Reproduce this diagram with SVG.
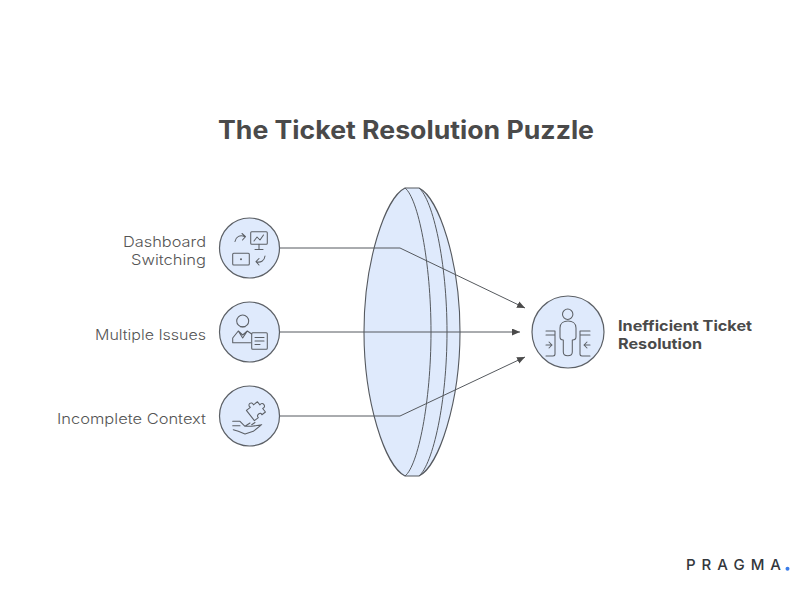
<svg xmlns="http://www.w3.org/2000/svg" width="810" height="591" viewBox="0 0 810 591">
<defs>
<style>
text{font-family:"Inter","Liberation Sans",sans-serif;fill:#4a4a4a}
.lab{font-size:14.5px;text-anchor:end;fill:#555;font-weight:300}
.bold{font-size:14.5px;font-weight:700}
.c{fill:#dfeafc;stroke:#5c6066;stroke-width:1.2}
.i{fill:none;stroke:#5c6066;stroke-width:1.05;stroke-linecap:round;stroke-linejoin:round}
.l{fill:none;stroke:#55595e;stroke-width:1}
</style>
<marker id="a" markerUnits="userSpaceOnUse" markerWidth="9" markerHeight="8" refX="8" refY="3.500" orient="auto"><path d="M0 0L8 3.500L0 7Z" fill="#4a4a4a"/></marker>
</defs>
<rect width="810" height="591" fill="#fff"/>
<text x="406" y="139" text-anchor="middle" font-size="25" font-weight="700" textLength="376" lengthAdjust="spacingAndGlyphs">The Ticket Resolution Puzzle</text>
<g id="lens">
<path d="M405 188H419C439 198 460 262 460 332C460 402 439 466 419 476H405C385 466 364 402 364 332C364 262 385 198 405 188Z" fill="#dfeafc" stroke="#55595f" stroke-width="1.1"/>
<path class="l" d="M405 188C418 198 431 262 431 332C431 402 418 466 405 476"/>
<path class="l" d="M419 188C433 200 447 262 447 332C447 402 433 464 419 476"/>
</g>
<g id="connectors">
<path class="l" marker-end="url(#a)" d="M280 248H400L525 308"/>
<path class="l" marker-end="url(#a)" d="M280 332H520"/>
<path class="l" marker-end="url(#a)" d="M280 416H400L525 357"/>
</g>
<g id="node-dashboard">
<circle class="c" cx="249.500" cy="248" r="30"/>
<path class="i" d="M235 241.500C236 236.500 240 234.500 245 236.700M242 233.500L245.500 236.700L242.500 240"/>
<rect class="i" x="250.700" y="231.700" width="16.600" height="12.600" rx="1"/>
<path class="i" d="M254 241L257 237L260 240L263.500 235M259 244.300V249.500M255 249.500H263"/>
<rect class="i" x="232.700" y="253.300" width="16.600" height="11.700" rx="1"/>
<circle cx="241" cy="259.200" r="1" fill="#5c6066"/>
<path class="i" d="M265 256C264.500 261 260.500 263 256 261.700M259 258.500L256 261.700L259 265"/>
<text class="lab" x="206" y="247" textLength="83" lengthAdjust="spacingAndGlyphs">Dashboard</text>
<text class="lab" x="206" y="265" textLength="75" lengthAdjust="spacingAndGlyphs">Switching</text>
</g>
<g id="node-issues">
<circle class="c" cx="249.500" cy="332" r="30"/>
<circle class="i" cx="242.700" cy="321" r="6"/>
<path class="i" d="M240.500 326.700H245M232.700 342.700V338L238.300 331L242.700 335L247.300 331L251.700 334M232.700 342.700H250.700M238.300 331L242.700 338L247.300 331"/>
<rect class="i" x="251.700" y="332.700" width="15.600" height="16.600" rx="1"/>
<path class="i" d="M255 337.500H264M255 341H264M255 344.500H260"/>
<text class="lab" x="206" y="340" textLength="111" lengthAdjust="spacingAndGlyphs">Multiple Issues</text>
</g>
<g id="node-context">
<circle class="c" cx="249.500" cy="416" r="30"/>
<path class="i" transform="translate(256 410.500) rotate(-38)" d="M-7.500-6H-2.500C-4-10.500 3-10.500 1.500-6H6.500V-2C11-3.500 11 4 6.500 2.500V7H2C3.500 3.500-3.500 3.500-2.500 7H-7.500Z"/>
<path class="i" d="M232.700 421.300H240L245 426.300H251.700L261.700 424.700L253.300 431.300L245 434L238.300 431.300L233.300 429.700M232.700 425.700H240M245 426.300L250 423M251.700 424.700L255 422.500"/>
<text class="lab" x="206" y="424" textLength="149" lengthAdjust="spacingAndGlyphs">Incomplete Context</text>
</g>
<g id="node-result">
<circle class="c" cx="568" cy="332" r="36"/>
<circle class="i" cx="567.700" cy="314.300" r="5.200"/>
<path class="i" d="M560 337V328C560 323 564 321 568 321C572 321 576 323 576 328V337C576 339 574 340 572.300 340V352C572.300 357 563.300 357 563.300 352V340C561.500 340 560 339 560 337Z"/>
<path class="i" d="M546 331H555V354C555 355 554 356 553 356H546M546 335H555M590 331H580V354C580 355 581 356 582 356H590M590 335H580"/>
<path class="i" d="M546 345H552M549 342L552 345L549 348M590 345H584M587 342L584 345L587 348"/>
<text class="bold" x="618" y="331" textLength="134" lengthAdjust="spacingAndGlyphs">Inefficient Ticket</text>
<text class="bold" x="618" y="349" textLength="84" lengthAdjust="spacingAndGlyphs">Resolution</text>
</g>
<g id="logo">
<text x="686" y="570" font-size="15" font-weight="500" textLength="95" style="fill:#33373c">PRAGMA</text>
<circle cx="787.500" cy="568.700" r="2" fill="#3b7de8"/>
</g>
</svg>
